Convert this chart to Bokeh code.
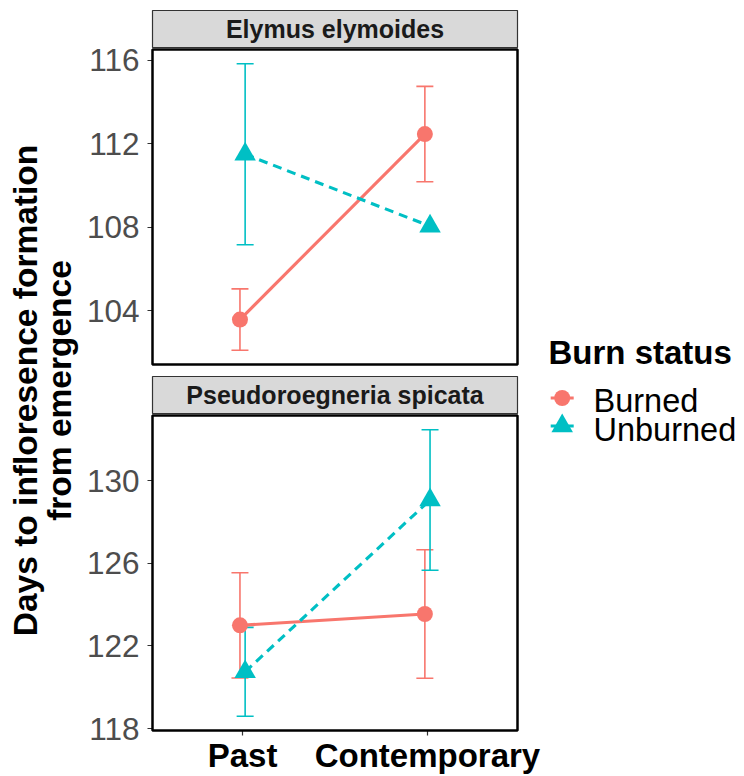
import math

from bokeh.core.properties import value
from bokeh.embed import file_html
from bokeh.layouts import column, row
from bokeh.models import (BoxAnnotation, ColumnDataSource, FixedTicker, Range1d,
                          TeeHead, Whisker)
from bokeh.plotting import figure
from bokeh.resources import INLINE

# ---------------------------------------------------------------- data
periods = ["Past", "Contemporary"]
species = ["Elymus elymoides", "Pseudoroegneria spicata"]
statuses = ["Burned", "Unburned"]

# mean days to inflorescence formation and standard error, in period order
elymus_burned_mean = [103.57, 112.47]
elymus_burned_se = [1.47, 2.29]
elymus_unburned_mean = [111.5, 108.05]
elymus_unburned_se = [4.34, 0.0]

pseudo_burned_mean = [123.0, 123.55]
pseudo_burned_se = [2.55, 3.11]
pseudo_unburned_mean = [120.75, 129.07]
pseudo_unburned_se = [2.15, 3.40]

elymus_ticks = [104, 108, 112, 116]
pseudo_ticks = [118, 122, 126, 130]

y_title = ["Days to infloresence formation", "from emergence"]
legend_title = "Burn status"

# ---------------------------------------------------------------- style
FONT = value("Liberation Sans")
COLORS = {"Burned": "#F8766D", "Unburned": "#00BFC4"}
MARKERS = {"Burned": "circle", "Unburned": "triangle"}
SIZES = {"Burned": 16, "Unburned": 21.5}
DASHES = {"Burned": "solid", "Unburned": "9 6"}
DODGE = {"Burned": -0.014, "Unburned": 0.014}
LINE_W = 3.1
BAR_W = 1.6

H = 776
LEFT_W = 80          # width of the shared y-title strip
COL_W = 463          # width of the facet column
PANEL_L = 72         # space for the y tick labels
PANEL_W = 365
STRIP_PX = 37        # facet strip height
GAP_PX = 2           # gap between strip and panel
PANEL_PX = 315       # panel height
EDGE = 2             # spare frame pixels around the boxes so borders are not clipped
X_RANGE = (1 - 0.487, 2 + 0.487)


def base_fig(width, height, **kw):
    p = figure(width=width, height=height, output_backend="svg",
               toolbar_location=None, **kw)
    p.xgrid.visible = False
    p.ygrid.visible = False
    return p


def style_ticks(ax):
    ax.axis_line_color = None
    ax.major_tick_line_color = "#333333"
    ax.major_tick_line_width = 1.2
    ax.major_tick_in = EDGE
    ax.major_tick_out = 5 - EDGE
    ax.minor_tick_line_color = None
    ax.major_label_text_font = "Liberation Sans"


def facet(label, series, ticks, top, bottom, show_x):
    lows = [m - s for mean, se in series.values() for m, s in zip(mean, se)]
    highs = [m + s for mean, se in series.values() for m, s in zip(mean, se)]
    lo, hi = min(lows), max(highs)
    pad = 0.05 * (hi - lo)
    y0, y1 = lo - pad, hi + pad
    per_px = (y1 - y0) / PANEL_PX
    strip_lo = y1 + GAP_PX * per_px
    strip_hi = strip_lo + STRIP_PX * per_px

    per_px_x = (X_RANGE[1] - X_RANGE[0]) / PANEL_W
    xr = Range1d(X_RANGE[0] - EDGE * per_px_x, X_RANGE[1] + EDGE * per_px_x)
    yr = Range1d(y0 - EDGE * per_px, strip_hi + EDGE * per_px)

    height = top + STRIP_PX + GAP_PX + PANEL_PX + 2 * EDGE + bottom
    p = base_fig(COL_W, height, x_range=xr, y_range=yr,
                 min_border_left=PANEL_L - EDGE,
                 min_border_right=COL_W - PANEL_L - PANEL_W - EDGE,
                 min_border_top=top, min_border_bottom=bottom,
                 x_axis_location="below" if show_x else None)
    p.outline_line_color = None

    # facet strip
    p.add_layout(BoxAnnotation(left=X_RANGE[0], right=X_RANGE[1], bottom=strip_lo,
                               top=strip_hi, fill_color="#D9D9D9", fill_alpha=1,
                               line_color="#333333", line_alpha=1, line_width=1.2,
                               level="underlay"))
    p.text(x=[sum(X_RANGE) / 2], y=[(strip_lo + strip_hi) / 2], text=[label],
           text_align="center", text_baseline="middle", text_font=FONT,
           text_font_style="bold", text_font_size="25px", text_color="#1A1A1A")

    for status, (mean, se) in series.items():
        c = COLORS[status]
        xs = [i + 1 + DODGE[status] for i in range(len(periods))]
        keep = [i for i in range(len(periods)) if se[i] > 0]
        src = ColumnDataSource(dict(
            x=[xs[i] for i in keep],
            lower=[mean[i] - se[i] for i in keep],
            upper=[mean[i] + se[i] for i in keep],
        ))
        w = Whisker(base="x", lower="lower", upper="upper", source=src,
                    dimension="height", line_color=c, line_width=BAR_W, level="underlay",
                    upper_head=TeeHead(size=17, line_color=c, line_width=BAR_W),
                    lower_head=TeeHead(size=17, line_color=c, line_width=BAR_W))
        p.add_layout(w)
        p.line(xs, mean, line_color=c, line_width=LINE_W, line_dash=DASHES[status])
        p.scatter(xs, mean, marker=MARKERS[status], size=SIZES[status],
                  fill_color=c, line_color=None)

    # panel border
    p.add_layout(BoxAnnotation(left=X_RANGE[0], right=X_RANGE[1], bottom=y0, top=y1,
                               fill_alpha=0, line_color="black", line_alpha=1,
                               line_width=2.5))

    yax = p.yaxis[0]
    yax.ticker = FixedTicker(ticks=ticks)
    style_ticks(yax)
    yax.major_label_text_font_size = "31.5px"
    yax.major_label_text_color = "#4D4D4D"
    yax.major_label_standoff = 8

    if show_x:
        xax = p.xaxis[0]
        xax.ticker = FixedTicker(ticks=[1, 2])
        xax.major_label_overrides = {i + 1: name for i, name in enumerate(periods)}
        style_ticks(xax)
        xax.major_label_text_font_style = "bold"
        xax.major_label_text_font_size = "33px"
        xax.major_label_text_color = "black"
        xax.major_label_standoff = 1
    return p


# ---------------------------------------------------------------- facets
facet1 = facet(species[0],
               {"Burned": (elymus_burned_mean, elymus_burned_se),
                "Unburned": (elymus_unburned_mean, elymus_unburned_se)},
               elymus_ticks, 8, 8, False)
facet2 = facet(species[1],
               {"Burned": (pseudo_burned_mean, pseudo_burned_se),
                "Unburned": (pseudo_unburned_mean, pseudo_unburned_se)},
               pseudo_ticks, 0, 44, True)

# ---------------------------------------------------------------- shared y title
title_fig = base_fig(LEFT_W, H, x_range=Range1d(0, LEFT_W), y_range=Range1d(H, 0),
                     min_border=0, x_axis_location=None, y_axis_location=None)
title_fig.outline_line_color = None
title_fig.text(x=[24.5, 58.5], y=[390, 390], text=y_title, angle=math.pi / 2,
               text_align="center", text_baseline="middle", text_font=FONT,
               text_font_style="bold", text_font_size="33.5px", text_color="black")

# ---------------------------------------------------------------- legend
LEG_W = 744 - LEFT_W - COL_W
x0 = LEFT_W + COL_W
leg = base_fig(LEG_W, H, x_range=Range1d(x0, 744), y_range=Range1d(H, 0),
               min_border=0, x_axis_location=None, y_axis_location=None)
leg.outline_line_color = None
leg.text(x=[548], y=[352], text=[legend_title], text_baseline="middle",
         text_font=FONT, text_font_style="bold", text_font_size="33px",
         text_color="black")
key_x = 561.7
key_y = {"Burned": 397.5, "Unburned": 425.5}
label_y = {"Burned": 400, "Unburned": 429}
for status in statuses:
    c = COLORS[status]
    ky = key_y[status]
    leg.line([key_x - 11.5, key_x + 11.5], [ky, ky], line_color=c, line_width=LINE_W,
             line_dash=DASHES[status])
    leg.scatter([key_x], [ky], marker=MARKERS[status], size=SIZES[status],
                fill_color=c, line_color=None)
    leg.text(x=[593], y=[label_y[status]], text=[status], text_baseline="middle",
             text_font=FONT, text_font_size="32.5px", text_color="black")

layout = row(title_fig, column(facet1, facet2), leg)

open("out.html", "w").write(file_html(layout, INLINE))
